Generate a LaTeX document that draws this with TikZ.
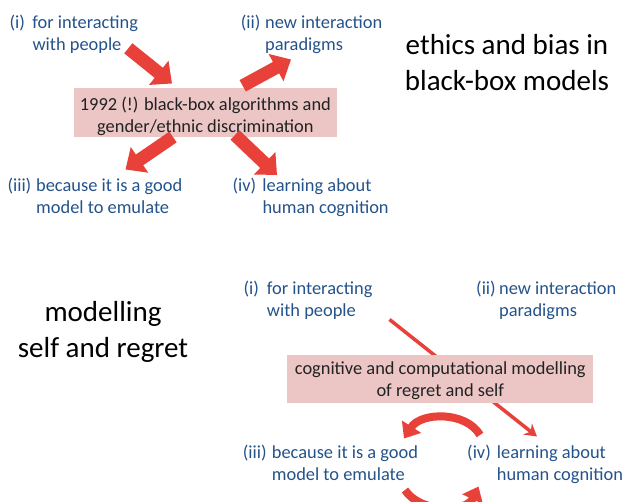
\documentclass[tikz,border=0pt]{standalone}
\usepackage{fontspec}
\setmainfont{Carlito}
\usetikzlibrary{arrows.meta}

\definecolor{itemblue}{HTML}{24528A}
\definecolor{arrowred}{HTML}{E8413A}
\definecolor{boxpink}{HTML}{ECC5C5}
\definecolor{boxink}{HTML}{222222}

\newcommand{\twoline}[4]{\begin{tabular}[t]{@{}p{#1}@{}l@{}}#2&#3\\&#4\end{tabular}}
\newcommand{\boxlines}[3]{\raisebox{-#1}[\height][\depth]{\begin{tabular}{@{}c@{}}#2\\#3\end{tabular}}}
\newcommand{\headlines}[2]{\begin{tabular}[t]{@{}c@{}}#1\\#2\end{tabular}}

\tikzset{
  item/.style={anchor=base west, inner sep=0pt, text=itemblue, font=\fontsize{18.4}{22}\selectfont},
  headline/.style={anchor=base, inner sep=0pt, font=\fontsize{29}{35.5}\selectfont},
  pinkbox/.style={fill=boxpink, inner sep=0pt, text=boxink, font=\fontsize{18.4}{22}\selectfont},
  fat/.style={draw=arrowred, line width=13pt, -{Triangle[width=30pt,length=17pt]}},
  curly/.style={draw=arrowred, line width=8pt, -{Triangle[width=22pt,length=14pt]}},
  slim/.style={draw=arrowred, line width=3.5pt, -{Stealth[width=14pt,length=12pt,inset=4pt]}}
}

\begin{document}
\begin{tikzpicture}[x=1pt,y=-1pt]
  \useasboundingbox (0,0) rectangle (624,502);
  \clip (0,0) rectangle (624,502);

  % upper half: ethics and bias
  \node[headline] (ethics) at (507,55) {\headlines{ethics and bias in}{black-box models}};
  \node[item] (ti) at (9.3,28.3) {\twoline{23pt}{(i)}{for interacting}{with people}};
  \node[item] (tii) at (240.7,28.3) {\twoline{24.3pt}{(ii)}{new interaction}{paradigms}};
  \node[item] (tiii) at (7.3,191.7) {\twoline{28.7pt}{(iii)}{because it is a good}{model to emulate}};
  \node[item] (tiv) at (232.3,191.7) {\twoline{30pt}{(iv)}{learning about}{human cognition}};

  \node[pinkbox, minimum width=263pt, minimum height=48.4pt] (box1) at (205.4,112.5)
    {\boxlines{4.4pt}{1992 (!) black-box algorithms and}{gender/ethnic discrimination}};

  \coordinate (a1s) at (128.3,48.3);  \coordinate (a1e) at (172,83.5);
  \coordinate (a2s) at (242.7,85.8);  \coordinate (a2e) at (291,59.5);
  \coordinate (a3s) at (173,137);     \coordinate (a3e) at (125.5,169.5);
  \coordinate (a4s) at (235,135);     \coordinate (a4e) at (277,175);
  \draw[fat] (a1s) -- (a1e);
  \draw[fat] (a2s) -- (a2e);
  \draw[fat] (a3s) -- (a3e);
  \draw[fat] (a4s) -- (a4e);

  % lower half: regret and self
  \node[headline] (regret) at (103,322) {\headlines{modelling}{self and regret}};
  \node[item] (bi) at (243.3,295) {\twoline{23.4pt}{(i)}{for interacting}{with people}};
  \node[item] (bii) at (476,295) {\twoline{23pt}{(ii)}{new interaction}{paradigms}};
  \node[item] (biii) at (242.7,458.3) {\twoline{29pt}{(iii)}{because it is a good}{model to emulate}};
  \node[item] (biv) at (467,458.3) {\twoline{29.7pt}{(iv)}{learning about}{human cognition}};

  \coordinate (s1) at (389.5,319.5);  \coordinate (s2) at (537,436.5);
  \draw[slim] (s1) -- (s2);

  \node[pinkbox, minimum width=306pt, minimum height=48.3pt] (box2) at (440.3,379.2)
    {\boxlines{2.4pt}{cognitive and computational modelling}{of regret and self}};

  \coordinate (c1) at (480,435);  \coordinate (c2) at (404,438.5);
  \coordinate (c3) at (405,490);  \coordinate (c4) at (478.5,486.5);
  \draw[curly] (c1) .. controls (466,411) and (421,412) .. (c2);
  \draw[curly] (c3) .. controls (420,513) and (466,513) .. (c4);
\end{tikzpicture}
\end{document}
